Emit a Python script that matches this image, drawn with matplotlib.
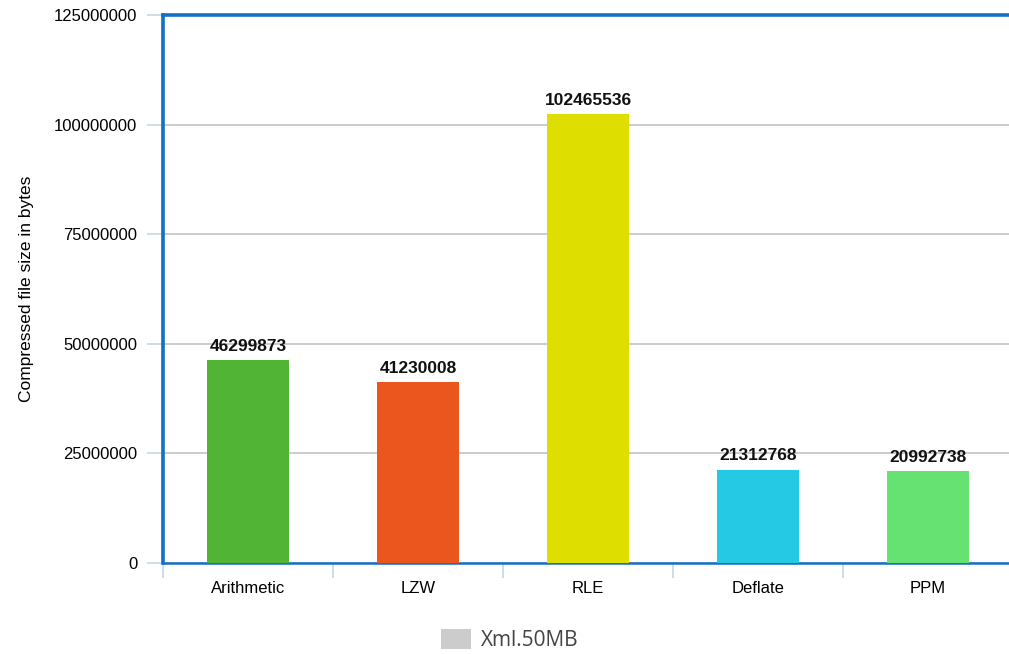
import matplotlib
matplotlib.use("Agg")
import matplotlib.pyplot as plt
from matplotlib.patches import Patch

categories = ["Arithmetic", "LZW", "RLE", "Deflate", "PPM"]
values = [46299873, 41230008, 102465536, 21312768, 20992738]
colors = ["#52B435", "#EB561E", "#DEDF00", "#26C9E3", "#66E272"]
yticks = [0, 25000000, 50000000, 75000000, 100000000, 125000000]
series_name = "Xml.50MB"
ylabel = "Compressed file size in bytes"

W, H = 1009, 654
fig = plt.figure(figsize=(W / 100, H / 100), dpi=100)
ax = fig.add_axes([163 / W, (H - 563) / H, 850 / W, 548 / H])

x = list(range(len(categories)))
ax.bar(x, values, width=0.48, color=colors, zorder=3)
ax.set_xlim(-0.5, len(categories) - 0.5)
ax.set_ylim(0, 125000000)

ax.set_yticks(yticks)
ax.set_yticklabels([str(v) for v in yticks], fontsize=12, family="Liberation Sans")
ax.yaxis.grid(True, color="#C4C4C4", linewidth=1.2, zorder=0)
ax.tick_params(axis="y", length=11.5, width=1.2, color="#C8D6E6", pad=7)

ax.set_xticks(x)
ax.set_xticklabels(categories, fontsize=12, family="Liberation Sans")
ax.set_xticks([i - 0.5 for i in range(len(categories) + 1)], minor=True)
ax.tick_params(axis="x", which="major", length=0, pad=13)
ax.tick_params(axis="x", which="minor", length=10.8, width=1.2, color="#C8D6E6")

for side in ["left", "top"]:
    ax.spines[side].set_color("#1470C4")
    ax.spines[side].set_linewidth(2.6)
ax.spines["bottom"].set_color("#1470C4")
ax.spines["bottom"].set_linewidth(1.8)
ax.spines["right"].set_visible(False)

ax.set_ylabel(ylabel, fontsize=12.5, family="Liberation Sans", labelpad=14)

for xi, v in zip(x, values):
    ax.annotate(str(v), (xi, v), xytext=(0, 4.5), textcoords="offset points",
                ha="center", va="bottom", fontsize=12.5, fontweight="bold",
                family="Liberation Sans", color="#111111")

fig.legend(handles=[Patch(facecolor="#CCCCCC", edgecolor="none")], labels=[series_name],
           loc="center", bbox_to_anchor=(510 / W, (H - 640) / H), frameon=False,
           handlelength=1.4, handleheight=1.1, handletextpad=0.5,
           prop={"family": "Open Sans", "size": 15}, labelcolor="#444444")

fig.savefig("out.png", dpi=100)
